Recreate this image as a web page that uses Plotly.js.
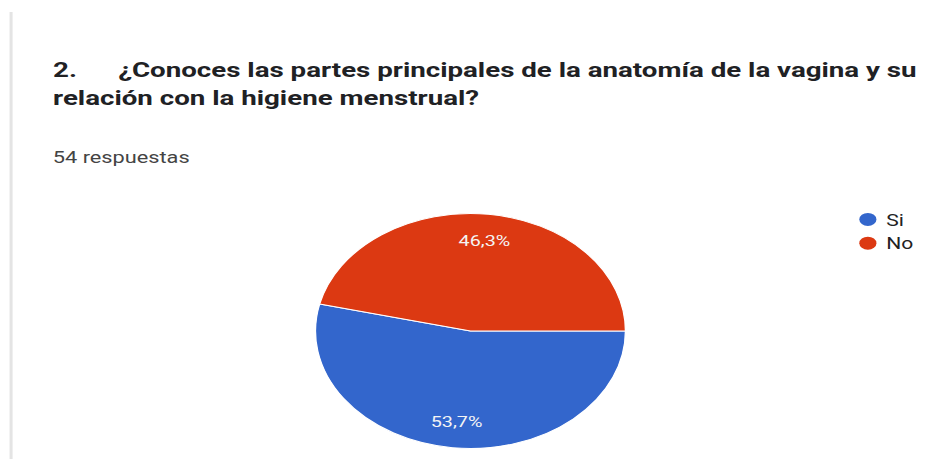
<!DOCTYPE html>
<html>
<head>
<meta charset="utf-8">
<script src="https://cdn.plot.ly/plotly-3.0.1.min.js"></script>
<style>
  html, body { margin: 0; padding: 0; background: #fff; overflow: hidden; width: 947px; height: 459px; }
  /* The reference picture is stretched horizontally (its pie is an ellipse),
     so the Plotly figure is drawn narrower and widened with a CSS scale. */
  #chart { width: 718px; height: 459px; transform: scaleX(1.31894); transform-origin: 0 0; }
</style>
</head>
<body>
<div id="chart"></div>
<script>
// ---- data ----
const categories = ['Si', 'No'];
const counts = [29, 25];
const sliceColors = ['#3366cc', '#dc3912'];
const questionNumber = '2.';
const questionLine1 = '¿Conoces las partes principales de la anatomía de la vagina y su';
const questionLine2 = 'relación con la higiene menstrual?';
const responsesLabel = '54 respuestas';

// ---- layout constants (figure pixels before the horizontal stretch) ----
const W = 718, H = 459;
const PIE_CX = 356.7, PIE_CY = 331, PIE_R = 117.5;
const LABEL_RADIUS = 0.775;   // slice labels sit at this fraction of the radius

const NB = '\u00a0';
const titleText = questionNumber + NB.repeat(6) + questionLine1 + '<br>' + questionLine2;

const trace = {
  type: 'pie',
  labels: categories,
  values: counts,
  sort: false,
  direction: 'clockwise',
  rotation: 90,
  marker: { colors: sliceColors, line: { color: '#ffffff', width: 1 } },
  texttemplate: '%{percent:.1%}',
  textposition: 'inside',
  insidetextorientation: 'horizontal',
  textfont: { family: 'Roboto, Arial, sans-serif', size: 15, color: '#f4f4f4' },
  hoverinfo: 'none',
  domain: {
    x: [(PIE_CX - PIE_R) / W, (PIE_CX + PIE_R) / W],
    y: [1 - (PIE_CY + PIE_R) / H, 1 - (PIE_CY - PIE_R) / H]
  },
  showlegend: true
};

const layout = {
  width: W, height: H,
  margin: { l: 0, r: 0, t: 0, b: 0 },
  paper_bgcolor: '#ffffff',
  separators: ',.',
  font: { family: 'Roboto, Arial, sans-serif', color: '#202124' },
  title: {
    text: titleText,
    x: 40.2 / W, xanchor: 'left', xref: 'paper',
    y: 1 - 77.5 / H, yanchor: 'top', yref: 'container',
    font: { family: 'Roboto, Arial, sans-serif', size: 21, weight: 700, color: '#202124' }
  },
  legend: {
    x: 632 / W, xanchor: 'left',
    y: 1 - 202.5 / H, yanchor: 'top',
    font: { family: 'Roboto, Arial, sans-serif', size: 16, color: '#222222' },
    bgcolor: 'rgba(0,0,0,0)'
  },
  annotations: [{
    text: responsesLabel,
    xref: 'paper', yref: 'paper',
    x: 37.5 / W, xanchor: 'left',
    y: 1 - 157 / H, yanchor: 'middle',
    showarrow: false,
    font: { family: 'Roboto, Arial, sans-serif', size: 16.5, color: '#444444' }
  }],
  shapes: [{
    type: 'line', xref: 'paper', yref: 'paper',
    x0: 8.4 / W, x1: 8.4 / W, y0: 0, y1: 1 - 12 / H,
    line: { color: '#e4e4e4', width: 2.3 }
  }]
};

function finishPie(gd) {
  const cd0 = gd.calcdata && gd.calcdata[0] && gd.calcdata[0][0];
  if (!cd0) return;
  const cx = cd0.cx, cy = cd0.cy, r = cd0.r;
  // move the slice labels outward along their own direction
  gd.querySelectorAll('.pielayer .slicetext text').forEach(t => {
    const list = t.transform.baseVal;
    const cons = list.numberOfItems ? list.consolidate() : null;
    const m = cons ? cons.matrix : { a: 1, b: 0, c: 0, d: 1, e: 0, f: 0 };
    const bb = t.getBBox();
    const px = bb.x + bb.width / 2, py = bb.y + bb.height / 2;
    const tx = m.a * px + m.c * py + m.e, ty = m.b * px + m.d * py + m.f;
    const dx = tx - cx, dy = ty - cy;
    const d = Math.hypot(dx, dy) || 1;
    const f = LABEL_RADIUS * r / d;
    const old = t.getAttribute('transform') || '';
    t.setAttribute('transform', 'translate(' + (dx * f - dx) + ',' + (dy * f - dy) + ') ' + old);
  });
  // round legend markers, a little closer to their labels
  gd.querySelectorAll('.legend .legendpoints path').forEach(p => {
    p.setAttribute('d', 'M-0.5,0A6.5,6.5 0 1,1 12.5,0A6.5,6.5 0 1,1 -0.5,0Z');
    p.style.strokeWidth = '0';
  });
}

Plotly.newPlot('chart', [trace], layout, { staticPlot: true, displayModeBar: false })
  .then(finishPie);
</script>
</body>
</html>
